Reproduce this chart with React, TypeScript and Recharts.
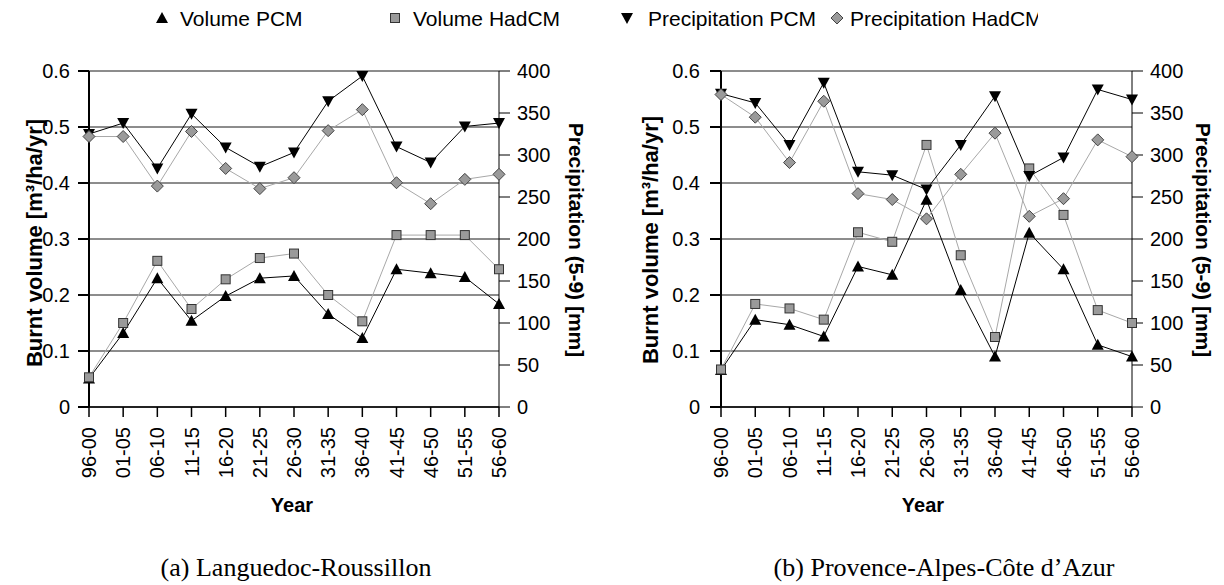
import { LineChart, Line, XAxis, YAxis, CartesianGrid } from "recharts"

const YEARS = ["96-00", "01-05", "06-10", "11-15", "16-20", "21-25", "26-30", "31-35", "36-40", "41-45", "46-50", "51-55", "56-60"]

// (a) Languedoc-Roussillon
const VOL_PCM_A = [0.051, 0.132, 0.23, 0.154, 0.198, 0.23, 0.234, 0.166, 0.123, 0.246, 0.239, 0.232, 0.184]
const VOL_HAD_A = [0.053, 0.15, 0.261, 0.175, 0.228, 0.266, 0.274, 0.2, 0.153, 0.307, 0.307, 0.307, 0.246]
const PRE_PCM_A = [325, 338, 284, 349, 309, 286, 303, 364, 394, 310, 291, 334, 338]
const PRE_HAD_A = [322, 322, 263, 328, 284, 260, 273, 329, 354, 267, 242, 271, 277]

// (b) Provence-Alpes-Côte d'Azur
const VOL_PCM_B = [0.066, 0.156, 0.147, 0.126, 0.251, 0.236, 0.37, 0.209, 0.09, 0.311, 0.246, 0.111, 0.09]
const VOL_HAD_B = [0.067, 0.184, 0.176, 0.156, 0.312, 0.295, 0.468, 0.271, 0.125, 0.426, 0.343, 0.173, 0.15]
const PRE_PCM_B = [373, 362, 312, 386, 280, 276, 259, 312, 370, 275, 297, 378, 366]
const PRE_HAD_B = [372, 345, 291, 364, 254, 247, 224, 277, 326, 227, 248, 318, 298]

const VOL_TICKS = [0, 0.1, 0.2, 0.3, 0.4, 0.5, 0.6]
const PRE_TICKS = [0, 50, 100, 150, 200, 250, 300, 350, 400]

const SANS = "'Liberation Sans', Arial, sans-serif"
const SERIF = "'Liberation Serif', 'Times New Roman', serif"
const MARKER_GRAY = "#9a9a9a"
const LINE_GRAY = "#a8a8a8"

const buildRows = (volPcm: number[], volHad: number[], prePcm: number[], preHad: number[]) =>
  YEARS.map((year, i) => ({ year, volPcm: volPcm[i], volHad: volHad[i], prePcm: prePcm[i], preHad: preHad[i] }))

const ROWS_A = buildRows(VOL_PCM_A, VOL_HAD_A, PRE_PCM_A, PRE_HAD_A)
const ROWS_B = buildRows(VOL_PCM_B, VOL_HAD_B, PRE_PCM_B, PRE_HAD_B)

// marker shapes, shared by the lines and the legend
const TriUp = ({ cx, cy }: { cx: number; cy: number }) => (
  <path d={`M${cx - 6},${cy + 5} L${cx + 6},${cy + 5} L${cx},${cy - 6} Z`} fill="#000" />
)
const TriDown = ({ cx, cy }: { cx: number; cy: number }) => (
  <path d={`M${cx - 6},${cy - 5} L${cx + 6},${cy - 5} L${cx},${cy + 6} Z`} fill="#000" />
)
const Square = ({ cx, cy }: { cx: number; cy: number }) => (
  <rect x={cx - 4.5} y={cy - 4.5} width={9} height={9} fill={MARKER_GRAY} stroke="#333" strokeWidth={1} />
)
const Diamond = ({ cx, cy }: { cx: number; cy: number }) => (
  <path d={`M${cx},${cy - 6} L${cx + 6},${cy} L${cx},${cy + 6} L${cx - 6},${cy} Z`} fill={MARKER_GRAY} stroke="#444" strokeWidth={1} />
)

const dotOf = (Shape: typeof TriUp) => (p: any) => <Shape key={`m-${p.index}`} cx={p.cx} cy={p.cy} />

const YearTick = ({ x, y, payload }: any) => (
  <g transform={`translate(${x},${y})`}>
    <text transform="rotate(-90)" textAnchor="end" dy="0.35em" fill="#000" fontSize={20} fontFamily={SANS}>
      {payload.value}
    </text>
  </g>
)

const tickStyle = { fill: "#000", fontSize: 20, fontFamily: SANS }

interface PanelProps {
  rows: typeof ROWS_A
  left: number
  leftWidth: number
  rightWidth: number
  leftMargin: number
}

function Panel({ rows, left, leftWidth, rightWidth, leftMargin }: PanelProps) {
  return (
    <div style={{ position: "absolute", left, top: 0 }}>
      <LineChart width={612} height={480} data={rows} margin={{ top: 71, right: 0, left: 0, bottom: 0 }}>
        <CartesianGrid yAxisId="vol" vertical={false} stroke="#1a1a1a" strokeWidth={1} />
        <XAxis
          dataKey="year"
          height={73}
          interval={0}
          stroke="#000"
          strokeWidth={1.5}
          tickSize={10}
          tickMargin={10}
          tick={<YearTick />}
        />
        <YAxis
          yAxisId="vol"
          orientation="left"
          width={leftWidth}
          domain={[0, 0.6]}
          ticks={VOL_TICKS}
          tickFormatter={(v: number) => (v === 0 ? "0" : v.toFixed(1))}
          stroke="#000"
          strokeWidth={2}
          tickSize={11}
          tickMargin={leftMargin}
          tick={tickStyle}
        />
        <YAxis
          yAxisId="pre"
          orientation="right"
          width={rightWidth}
          domain={[0, 400]}
          ticks={PRE_TICKS}
          stroke="#000"
          tickSize={11}
          tickMargin={7}
          tick={tickStyle}
        />
        <Line yAxisId="vol" dataKey="volPcm" type="linear" stroke="#000" strokeWidth={1} dot={dotOf(TriUp)} isAnimationActive={false} />
        <Line yAxisId="vol" dataKey="volHad" type="linear" stroke={LINE_GRAY} strokeWidth={1} dot={dotOf(Square)} isAnimationActive={false} />
        <Line yAxisId="pre" dataKey="prePcm" type="linear" stroke="#000" strokeWidth={1} dot={dotOf(TriDown)} isAnimationActive={false} />
        <Line yAxisId="pre" dataKey="preHad" type="linear" stroke={LINE_GRAY} strokeWidth={1} dot={dotOf(Diamond)} isAnimationActive={false} />
      </LineChart>
    </div>
  )
}

const LEGEND = [
  { label: "Volume PCM", Shape: TriUp, x: 162, tx: 180 },
  { label: "Volume HadCM", Shape: Square, x: 395, tx: 413 },
  { label: "Precipitation PCM", Shape: TriDown, x: 627, tx: 648 },
  { label: "Precipitation HadCM", Shape: Diamond, x: 837, tx: 850 },
]

const AXIS_TITLES = [
  { x: 34, y: 243, angle: -90, size: 22, text: "Burnt volume [m³/ha/yr]" },
  { x: 576, y: 240, angle: 90, size: 21, text: "Precipitation (5-9) [mm]" },
  { x: 650, y: 240, angle: -90, size: 22, text: "Burnt volume [m³/ha/yr]" },
  { x: 1203, y: 240, angle: 90, size: 21, text: "Precipitation (5-9) [mm]" },
]

export default function App() {
  return (
    <div style={{ position: "absolute", left: 0, top: 0, width: 1224, height: 585, background: "#fff", fontFamily: SANS }}>
      <Panel rows={ROWS_A} left={0} leftWidth={89} rightWidth={113} leftMargin={8} />
      <Panel rows={ROWS_B} left={612} leftWidth={109} rightWidth={92} leftMargin={10} />

      <svg width={1224} height={585} style={{ position: "absolute", left: 0, top: 0, pointerEvents: "none" }}>
        <defs>
          {/* the last legend entry is cut off in the original */}
          <clipPath id="legend-clip">
            <rect x={0} y={0} width={1038} height={40} />
          </clipPath>
        </defs>

        <g clipPath="url(#legend-clip)">
          {LEGEND.map(({ label, Shape, x, tx }) => (
            <g key={label}>
              <Shape cx={x} cy={18} />
              <text x={tx} y={18} dominantBaseline="central" fontSize={21} fontFamily={SANS} fill="#000">
                {label}
              </text>
            </g>
          ))}
        </g>

        {AXIS_TITLES.map((t, i) => (
          <text
            key={i}
            x={t.x}
            y={t.y}
            transform={`rotate(${t.angle} ${t.x} ${t.y})`}
            textAnchor="middle"
            dominantBaseline="central"
            fontSize={t.size}
            fontWeight="bold"
            fontFamily={SANS}
            fill="#000"
          >
            {t.text}
          </text>
        ))}

        <text x={292} y={505} textAnchor="middle" dominantBaseline="central" fontSize={20} fontWeight="bold" fontFamily={SANS}>Year</text>
        <text x={923} y={505} textAnchor="middle" dominantBaseline="central" fontSize={20} fontWeight="bold" fontFamily={SANS}>Year</text>

        <text x={296} y={567} textAnchor="middle" dominantBaseline="central" fontSize={26} fontFamily={SERIF}>(a) Languedoc-Roussillon</text>
        <text x={944} y={567} textAnchor="middle" dominantBaseline="central" fontSize={26} fontFamily={SERIF}>(b) Provence-Alpes-Côte d’Azur</text>
      </svg>
    </div>
  )
}
